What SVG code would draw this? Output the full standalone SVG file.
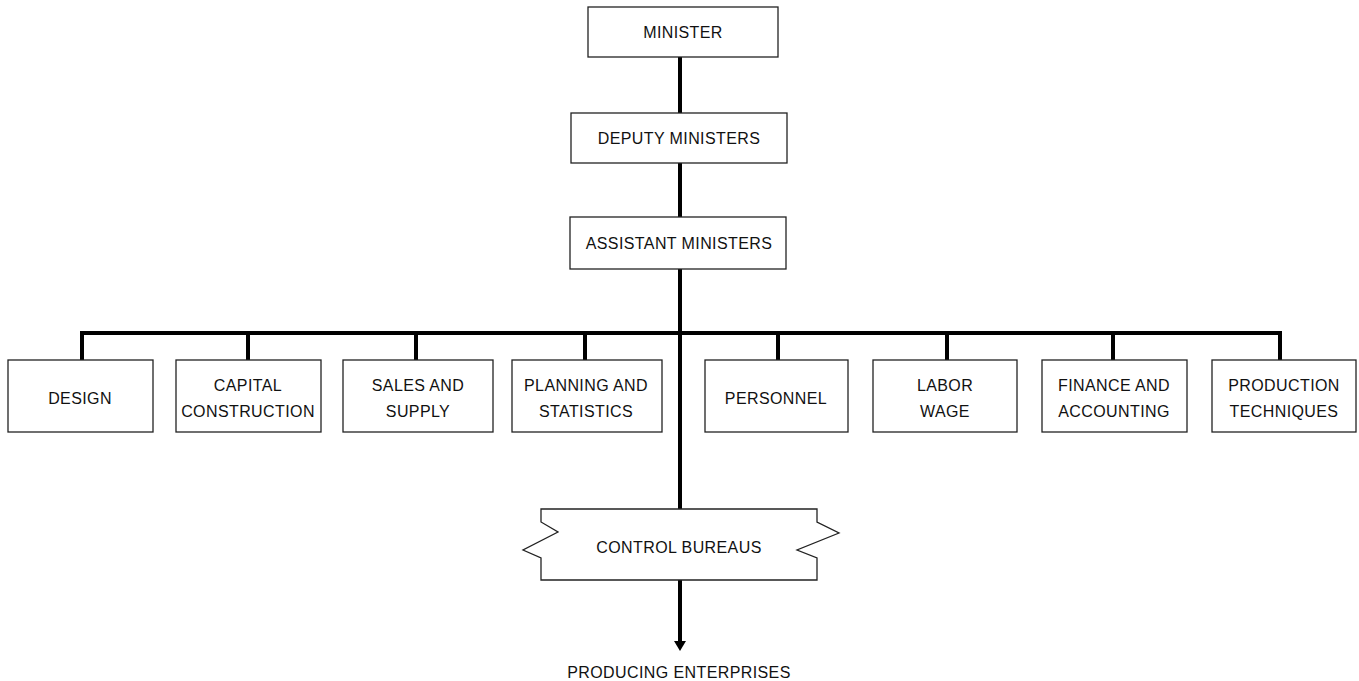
<svg xmlns="http://www.w3.org/2000/svg" width="1359" height="681" viewBox="0 0 1359 681">
<defs>
<style>
.box{fill:#fff;stroke:#222;stroke-width:1.3}
.t{font-family:"Liberation Sans",Arial,sans-serif;font-size:16px;letter-spacing:0.4px;fill:#111;text-anchor:middle}
.c{stroke:#000;stroke-width:4;fill:none}
</style>
</defs>
<rect width="1359" height="681" fill="#fff"/>
<g id="connectors">
<line class="c" x1="680" y1="57" x2="680" y2="113"/>
<line class="c" x1="680" y1="163" x2="680" y2="217"/>
<line class="c" x1="680" y1="269" x2="680" y2="509"/>
<line class="c" x1="80" y1="333" x2="1282" y2="333"/>
<line class="c" x1="82" y1="333" x2="82" y2="360"/>
<line class="c" x1="248" y1="333" x2="248" y2="360"/>
<line class="c" x1="416" y1="333" x2="416" y2="360"/>
<line class="c" x1="585" y1="333" x2="585" y2="360"/>
<line class="c" x1="778" y1="333" x2="778" y2="360"/>
<line class="c" x1="947" y1="333" x2="947" y2="360"/>
<line class="c" x1="1113" y1="333" x2="1113" y2="360"/>
<line class="c" x1="1280" y1="331" x2="1280" y2="360"/>
<line class="c" x1="680" y1="580" x2="680" y2="642"/>
<path d="M674,641 L686,641 L680,651 z" fill="#000"/>
</g>
<g id="minister">
<rect class="box" x="588" y="7" width="190" height="50"/>
<text class="t" x="683" y="38">MINISTER</text>
</g>
<g id="deputy">
<rect class="box" x="571" y="113" width="216" height="50"/>
<text class="t" x="679" y="144">DEPUTY MINISTERS</text>
</g>
<g id="assistant">
<rect class="box" x="570" y="217" width="216" height="52"/>
<text class="t" x="679" y="249">ASSISTANT MINISTERS</text>
</g>
<g id="design">
<rect class="box" x="8" y="360" width="145" height="72"/>
<text class="t" x="80" y="404">DESIGN</text>
</g>
<g id="capital">
<rect class="box" x="176" y="360" width="145" height="72"/>
<text class="t" x="248" y="391">CAPITAL</text>
<text class="t" x="248" y="417">CONSTRUCTION</text>
</g>
<g id="sales">
<rect class="box" x="343" y="360" width="150" height="72"/>
<text class="t" x="418" y="391">SALES AND</text>
<text class="t" x="418" y="417">SUPPLY</text>
</g>
<g id="planning">
<rect class="box" x="512" y="360" width="150" height="72"/>
<text class="t" x="586" y="391">PLANNING AND</text>
<text class="t" x="586" y="417">STATISTICS</text>
</g>
<g id="personnel">
<rect class="box" x="705" y="360" width="143" height="72"/>
<text class="t" x="776" y="404">PERSONNEL</text>
</g>
<g id="labor">
<rect class="box" x="873" y="360" width="144" height="72"/>
<text class="t" x="945" y="391">LABOR</text>
<text class="t" x="945" y="417">WAGE</text>
</g>
<g id="finance">
<rect class="box" x="1042" y="360" width="145" height="72"/>
<text class="t" x="1114" y="391">FINANCE AND</text>
<text class="t" x="1114" y="417">ACCOUNTING</text>
</g>
<g id="production">
<rect class="box" x="1212" y="360" width="144" height="72"/>
<text class="t" x="1284" y="391">PRODUCTION</text>
<text class="t" x="1284" y="417">TECHNIQUES</text>
</g>
<g id="control">
<path class="box" d="M541,509 L817,509 L817,522 L839,533 L797,550 L817,558 L817,580 L541,580 L541,558 L523,550 L558,532 L541,522 Z"/>
<text class="t" x="679" y="553">CONTROL BUREAUS</text>
</g>
<g id="producing">
<text class="t" x="679" y="678">PRODUCING ENTERPRISES</text>
</g>
</svg>
